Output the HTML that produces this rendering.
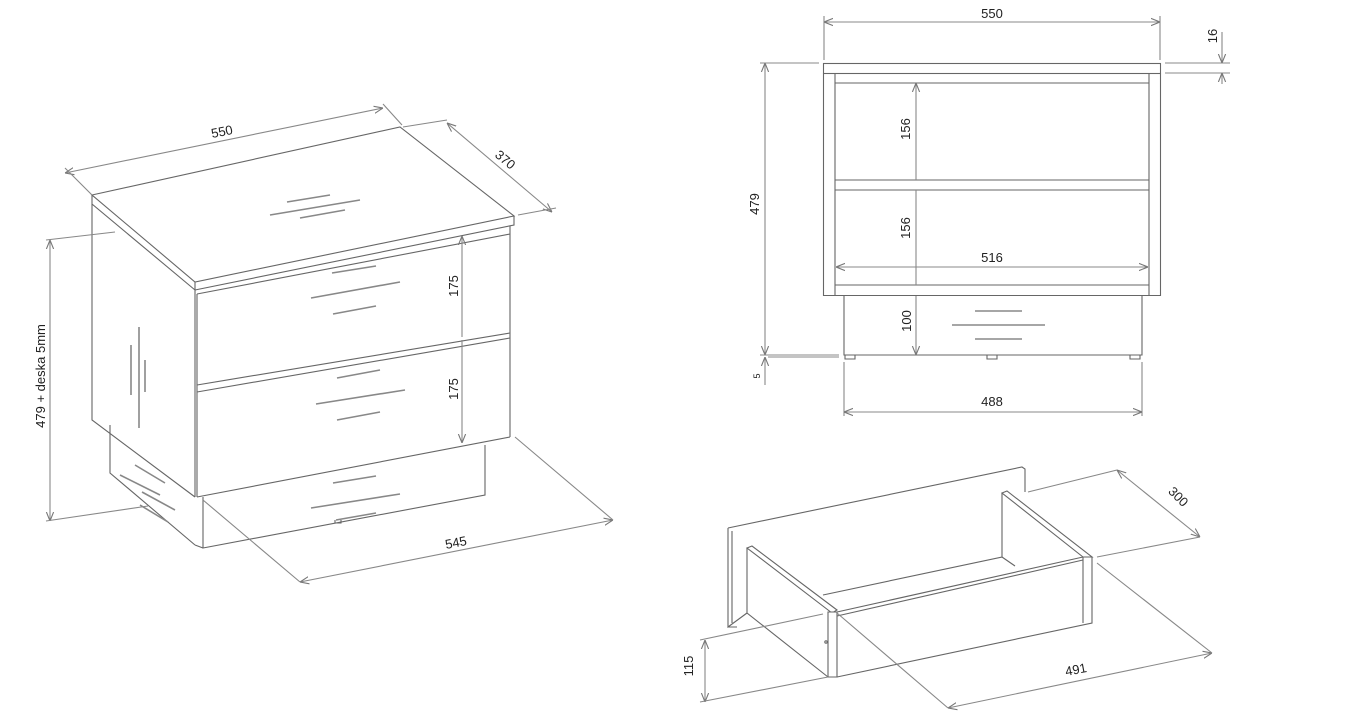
<!DOCTYPE html>
<html><head><meta charset="utf-8"><style>
html,body{margin:0;padding:0;background:#fff;}
svg{display:block;}
text{font-family:"Liberation Sans",sans-serif;font-size:13px;fill:#222;}
</style></head><body>
<svg width="1352" height="718" viewBox="0 0 1352 718" xmlns="http://www.w3.org/2000/svg">
<defs>
<marker id="a" viewBox="0 0 10 10" refX="10" refY="5" markerWidth="9" markerHeight="9" orient="auto-start-reverse" markerUnits="userSpaceOnUse"><path d="M0,1 L10,5 L0,9" fill="none" stroke="#777" stroke-width="1.2"/></marker>
</defs>
<g fill="none" stroke="#666" stroke-width="1.1">
<!-- LEFT ISO CABINET -->
<polygon points="92,195 400,127 514,216 195,282" fill="#fff"/>
<path d="M92,195 L92,204 L195,290 L195,282 M195,290 L514,225 L514,216"/>
<path d="M92,204 L92,420 L195,497"/>
<path d="M195,290 L195,497 M510,226 L510,437"/>
<path d="M197,294 L510,234 M197,385 L510,333 M197,392 L510,338 M197,497 L510,437"/>
<path d="M197,294 L197,497"/>
<path d="M203,497 L203,548 L485,495 L485,445 M203,548 L195,545"/>
<path d="M110,425 L110,473 L195,545"/>
<path d="M335,520 l0,3 l6,0 l0,-3"/>
<!-- handles -->
<g stroke="#888" stroke-width="1.6">
<path d="M287,202 L330,195 M270,215 L360,200 M300,218 L345,210"/>
<path d="M332,273 L376,266 M311,298 L400,282 M333,314 L376,306"/>
<path d="M337,378 L380,370 M316,404 L405,390 M337,420 L380,412"/>
<path d="M333,483 L376,476 M311,508 L400,494 M336,520 L376,513"/>
<path d="M139,327 L139,428 M131,345 L131,395 M145,360 L145,392"/>
<path d="M120,475 L160,495 M135,465 L165,483 M142,492 L175,510 M140,505 L168,522"/>
</g>
<!-- dims left -->
<g stroke="#888">
<path d="M65,173 L383,108" marker-start="url(#a)" marker-end="url(#a)"/>
<path d="M65,168 L92,195 M383,104 L402,125"/>
<path d="M447,123 L552,212" marker-start="url(#a)" marker-end="url(#a)"/>
<path d="M403,127 L447,120 M518,215 L556,208"/>
<path d="M50,240 L50,521" marker-start="url(#a)" marker-end="url(#a)"/>
<path d="M46,240 L115,232 M46,521 L148,506"/>
<path d="M462,236 L462,337 M462,340 L462,443" marker-start="url(#a)" marker-end="url(#a)"/>
<path d="M300,582 L613,520" marker-start="url(#a)" marker-end="url(#a)"/>
<path d="M203,500 L300,582 M515,437 L613,520"/>
</g>
<!-- FRONT VIEW -->
<rect x="823.5" y="63.5" width="337" height="10" fill="#fff"/>
<path d="M823.5,73.5 L823.5,295.5 L1160.5,295.5 L1160.5,73.5"/>
<path d="M835,73.5 L835,295.5 M1149,73.5 L1149,295.5 M835,83 L1149,83 M835,180 L1149,180 M835,190 L1149,190 M835,285 L1149,285"/>
<path d="M844,295.5 L844,355 L1142,355 L1142,295.5"/>
<path d="M845,355 v4 h10 v-4 M987,355 v4 h10 v-4 M1130,355 v4 h10 v-4"/>
<g stroke="#888" stroke-width="1.6"><path d="M975,311 L1022,311 M952,325 L1045,325 M975,339 L1022,339"/></g>
<g stroke="#888">
<path d="M824,22 L1160,22" marker-start="url(#a)" marker-end="url(#a)"/>
<path d="M824,16 L824,60 M1160,16 L1160,60"/>
<path d="M1165,63 L1230,63 M1165,73 L1230,73"/>
<path d="M1222,32 L1222,63" marker-end="url(#a)"/><path d="M1222,84 L1222,73" marker-end="url(#a)"/>
<path d="M765,63 L765,355" marker-start="url(#a)" marker-end="url(#a)"/>
<path d="M760,63 L819,63 M760,355 L839,355 M768,357 L839,357"/>
<path d="M765,372 L765,357" marker-end="url(#a)"/><path d="M765,372 L765,385"/>
<path d="M916,83 L916,180 M916,190 L916,285 M916,296 L916,355" marker-start="url(#a)" marker-end="url(#a)"/>
<path d="M836,267 L1148,267" marker-start="url(#a)" marker-end="url(#a)"/>
<path d="M844,362 L844,416 M1142,362 L1142,416"/>
<path d="M844,412 L1142,412" marker-start="url(#a)" marker-end="url(#a)"/>
</g>
<!-- DRAWER ISO -->
<path d="M728,528 L1022,467 L1025,469 L1025,492 M728,528 L728,627 L747,613 M732,531 L732,623 M728,627 L737,627"/>
<path d="M747,548 L752,546 L837,610 L832,613 Z" fill="#fff"/>
<path d="M747,548 L747,613 L828,677"/>
<path d="M828,612 L828,677 L837,677 L837,612 Z" fill="#fff"/>
<path d="M837,612 L1083,557 L1092,557 L1092,623 L837,677"/>
<path d="M1083,557 L1083,623"/>
<path d="M837,616 L1083,560"/>
<path d="M1002,493 L1007,491 L1092,557 L1083,557 Z" fill="#fff"/>
<path d="M1002,493 L1002,557 L823,595"/>
<path d="M1002,557 L1015,566"/>
<circle cx="826" cy="642" r="1.2"/>
<g stroke="#888">
<path d="M1117,470 L1200,537" marker-start="url(#a)" marker-end="url(#a)"/>
<path d="M1028,492 L1117,470 M1097,557 L1200,537"/>
<path d="M948,708 L1212,653" marker-start="url(#a)" marker-end="url(#a)"/>
<path d="M837,613 L948,708 M1097,563 L1212,653"/>
<path d="M705,640 L705,702" marker-start="url(#a)" marker-end="url(#a)"/>
<path d="M700,640 L823,614 M700,702 L828,677"/>
</g>
</g>
<!-- labels -->
<text x="222" y="136" text-anchor="middle" transform="rotate(-11 222 132)">550</text>
<text x="505" y="164" text-anchor="middle" transform="rotate(40 505 160)">370</text>
<text x="49" y="380" text-anchor="middle" transform="rotate(-90 45 380)">479 + deska 5mm</text>
<text x="457" y="295" text-anchor="middle" transform="rotate(-90 453 290)">175</text>
<text x="457" y="398" text-anchor="middle" transform="rotate(-90 453 393)">175</text>
<text x="456" y="547" text-anchor="middle" transform="rotate(-11 456 543)">545</text>
<text x="992" y="18" text-anchor="middle">550</text>
<text x="1216" y="45" text-anchor="middle" transform="rotate(-90 1212 40)">16</text>
<text x="758" y="213" text-anchor="middle" transform="rotate(-90 754 208)">479</text>
<text x="760" y="382" text-anchor="middle" style="font-size:9px" transform="rotate(-90 757 379)">5</text>
<text x="910" y="137" text-anchor="middle" transform="rotate(-90 906 133)">156</text>
<text x="910" y="236" text-anchor="middle" transform="rotate(-90 906 232)">156</text>
<text x="992" y="262" text-anchor="middle">516</text>
<text x="910" y="330" text-anchor="middle" transform="rotate(-90 906 325)">100</text>
<text x="992" y="406" text-anchor="middle">488</text>
<text x="1178" y="501" text-anchor="middle" transform="rotate(45 1178 497)">300</text>
<text x="1076" y="674" text-anchor="middle" transform="rotate(-11 1076 670)">491</text>
<text x="692" y="675" text-anchor="middle" transform="rotate(-90 688 670)">115</text>
</svg>
</body></html>
